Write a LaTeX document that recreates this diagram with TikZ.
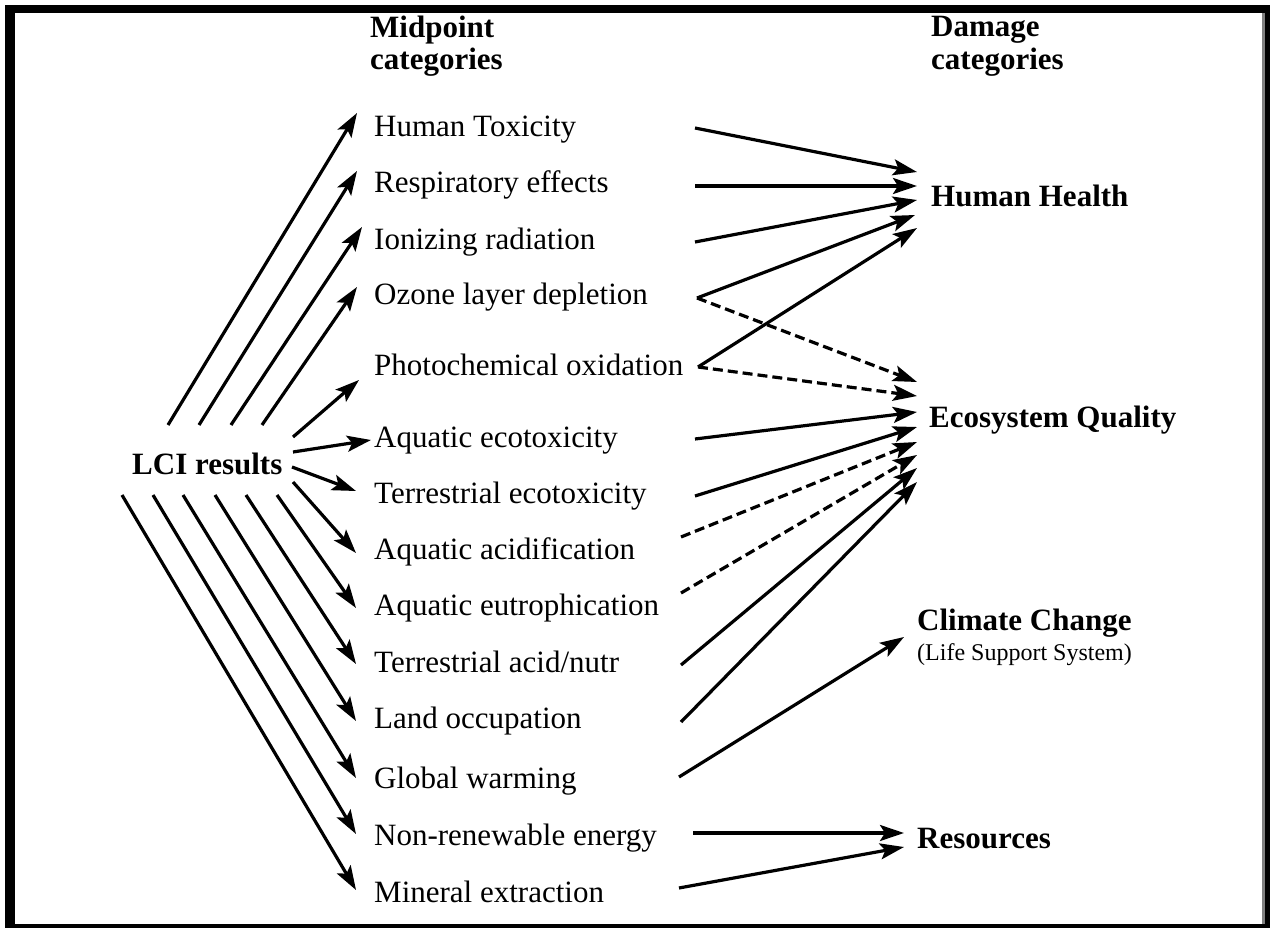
\documentclass[tikz,border=0pt]{standalone}
\usepackage{fontspec}
\setmainfont{Liberation Serif}
\usetikzlibrary{arrows.meta}
\tikzset{
  lbl/.style={anchor=base west, inner sep=0pt, font=\fontsize{31}{37}\selectfont},
  hdr/.style={anchor=base west, inner sep=0pt, font=\fontsize{31}{37}\selectfont\bfseries},
  sub/.style={anchor=base west, inner sep=0pt, font=\fontsize{24}{29}\selectfont},
  arr/.style={line width=3.2pt, -{Stealth[length=24pt,width=16pt,inset=5pt]}},
  dsh/.style={arr, dash pattern=on 10pt off 5pt},
}
\begin{document}
\begin{tikzpicture}[x=1pt,y=-1pt]
\useasboundingbox (0,0) rectangle (1270,928);
% frame
\fill[black] (5,5) rectangle (1270,928);
\fill[white] (15,13) rectangle (1262,924);
\fill[gray] (1262,13) rectangle (1265,924);

% headers
\node[hdr] (mh1) at (370,38) {Midpoint};
\node[hdr] (mh2) at (370,70) {categories};
\node[hdr] (dh1) at (931,37) {Damage};
\node[hdr] (dh2) at (931,70) {categories};

% inventory
\node[hdr] (lci) at (132,474) {LCI results};

% midpoint categories
\node[lbl] (ht)  at (374,137) {Human Toxicity};
\node[lbl] (re)  at (374,193) {Respiratory effects};
\node[lbl] (ir)  at (374,250) {Ionizing radiation};
\node[lbl] (oz)  at (374,305) {Ozone layer depletion};
\node[lbl] (po)  at (374,375) {Photochemical oxidation};
\node[lbl] (aet) at (374,447) {Aquatic ecotoxicity};
\node[lbl] (tet) at (374,503) {Terrestrial ecotoxicity};
\node[lbl] (aac) at (374,559) {Aquatic acidification};
\node[lbl] (aeu) at (374,615) {Aquatic eutrophication};
\node[lbl] (tan) at (374,672) {Terrestrial acid/nutr};
\node[lbl] (lo)  at (374,728) {Land occupation};
\node[lbl] (gw)  at (374,788) {Global warming};
\node[lbl] (nre) at (374,845) {Non-renewable energy};
\node[lbl] (me)  at (374,902) {Mineral extraction};

% damage categories
\node[hdr] (hh)  at (931,207) {Human Health};
\node[hdr] (eq)  at (929,427) {Ecosystem Quality};
\node[hdr] (cc)  at (917,630) {Climate Change};
\node[sub] (ccs) at (917,660) {(Life Support System)};
\node[hdr] (res) at (917,848) {Resources};

% fan-out points around the inventory label
\coordinate (l-ht)  at (168,425);
\coordinate (l-re)  at (199,425);
\coordinate (l-ir)  at (231,425);
\coordinate (l-oz)  at (262,425);
\coordinate (l-po)  at (293,437);
\coordinate (l-aet) at (293,452);
\coordinate (l-tet) at (292,467);
\coordinate (l-aac) at (293,482);
\coordinate (l-aeu) at (277,495);
\coordinate (l-tan) at (246,495);
\coordinate (l-lo)  at (215,495);
\coordinate (l-gw)  at (183,495);
\coordinate (l-nre) at (153,495);
\coordinate (l-me)  at (122,495);

\draw[arr] (l-ht)  -- ([shift={(-17,-24)}]ht.base west);
\draw[arr] (l-re)  -- ([shift={(-17,-22)}]re.base west);
\draw[arr] (l-ir)  -- ([shift={(-12,-23)}]ir.base west);
\draw[arr] (l-oz)  -- ([shift={(-17,-18)}]oz.base west);
\draw[arr] (l-po)  -- ([shift={(-15,5)}]po.base west);
\draw[arr] (l-aet) -- ([shift={(-3,-7)}]aet.base west);
\draw[arr] (l-tet) -- ([shift={(-18,-12)}]tet.base west);
\draw[arr] (l-aac) -- ([shift={(-18,-6)}]aac.base west);
\draw[arr] (l-aeu) -- ([shift={(-18,-7)}]aeu.base west);
\draw[arr] (l-tan) -- ([shift={(-18,-8)}]tan.base west);
\draw[arr] (l-lo)  -- ([shift={(-18,-7)}]lo.base west);
\draw[arr] (l-gw)  -- ([shift={(-18,-10)}]gw.base west);
\draw[arr] (l-nre) -- ([shift={(-18,-11)}]nre.base west);
\draw[arr] (l-me)  -- ([shift={(-18,-12)}]me.base west);

% outgoing points of the midpoint categories
\coordinate (r-ht)  at (695,128);
\coordinate (r-re)  at (695,186);
\coordinate (r-ir)  at (695,242);
\coordinate (r-oz)  at (697,298);
\coordinate (r-po)  at (698,367);
\coordinate (r-aet) at (695,439);
\coordinate (r-tet) at (695,496);
\coordinate (r-aac) at (681,537);
\coordinate (r-aeu) at (681,593);
\coordinate (r-tan) at (681,665);
\coordinate (r-lo)  at (681,722);
\coordinate (r-gw)  at (679,777);
\coordinate (r-nre) at (693,833);
\coordinate (r-me)  at (679,888);

% to human health
\draw[arr] (r-ht) -- ([shift={(-14,-35)}]hh.base west);
\draw[arr] (r-re) -- ([shift={(-14,-21)}]hh.base west);
\draw[arr] (r-ir) -- ([shift={(-14,-7)}]hh.base west);
\draw[arr] (r-oz) -- ([shift={(-16,8)}]hh.base west);
\draw[arr] (r-po) -- ([shift={(-14,21)}]hh.base west);

% to ecosystem quality
\draw[dsh] (r-oz)  -- ([shift={(-12,-45)}]eq.base west);
\draw[dsh] (r-po)  -- ([shift={(-12,-31)}]eq.base west);
\draw[arr] (r-aet) -- ([shift={(-12,-15)}]eq.base west);
\draw[arr] (r-tet) -- ([shift={(-12,0)}]eq.base west);
\draw[dsh] (r-aac) -- ([shift={(-12,15)}]eq.base west);
\draw[dsh] (r-aeu) -- ([shift={(-12,28)}]eq.base west);
\draw[arr] (r-tan) -- ([shift={(-12,41)}]eq.base west);
\draw[arr] (r-lo)  -- ([shift={(-12,55)}]eq.base west);

% to climate change
\draw[arr] (r-gw) -- ([shift={(-13,7)}]cc.base west);

% to resources
\draw[arr] (r-nre) -- ([shift={(-13,-15)}]res.base west);
\draw[arr] (r-me)  -- ([shift={(-13,-1)}]res.base west);
\end{tikzpicture}
\end{document}
